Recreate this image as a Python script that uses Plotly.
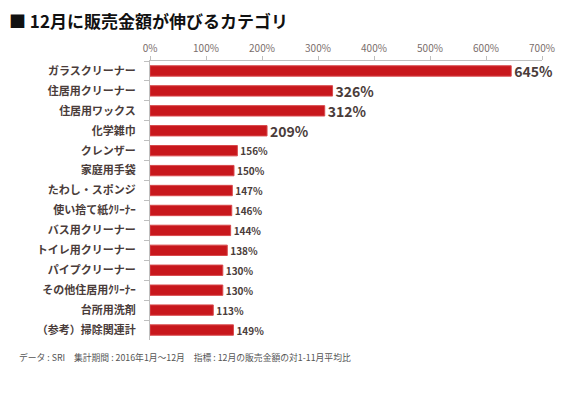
import plotly.graph_objects as go

categories = ["ガラスクリーナー", "住居用クリーナー", "住居用ワックス", "化学雑巾", "クレンザー",
              "家庭用手袋", "たわし・スポンジ", "使い捨て紙ｸﾘｰﾅｰ", "バス用クリーナー", "トイレ用クリーナー",
              "パイプクリーナー", "その他住居用ｸﾘｰﾅｰ", "台所用洗剤", "（参考）掃除関連計"]
values = [6.45, 3.26, 3.12, 2.09, 1.56, 1.50, 1.47, 1.46, 1.44, 1.38, 1.30, 1.30, 1.13, 1.49]
tick_vals = [0, 1, 2, 3, 4, 5, 6, 7]
tick_text = ["0%", "100%", "200%", "300%", "400%", "500%", "600%", "700%"]

labels = [f"{round(v*100)}%" for v in values]
label_sizes = [14 if i < 4 else 10 for i in range(len(values))]

FONT = "Noto Sans CJK JP"
TXT = "#4a3c3a"

fig = go.Figure(go.Bar(
    x=values, y=categories, orientation="h",
    marker=dict(color="#c8171c", line=dict(color="#d9494c", width=1)),
    text=labels, textposition="outside", cliponaxis=False, constraintext="none",
    textfont=dict(size=label_sizes, color=TXT, family=FONT, weight="bold"),
    width=0.52,
))

fig.update_layout(
    width=572, height=385,
    margin=dict(l=142, r=38, t=53, b=53),
    paper_bgcolor="white", plot_bgcolor="white",
    showlegend=False,
    font=dict(family=FONT, color=TXT),
    xaxis=dict(side="top", range=[0, 7], tickvals=tick_vals, ticktext=tick_text, automargin=False,
               showgrid=False, zeroline=False, showline=True, linecolor="#bfbfbf", linewidth=1,
               ticks="outside", ticklen=4, tickcolor="#bfbfbf",
               tickfont=dict(size=10, color="#7a6e6c", family=FONT)),
    yaxis=dict(autorange="reversed", showgrid=False, showline=True, linecolor="#bfbfbf", linewidth=1,
               automargin=False,
               ticks="outside", ticklen=5, tickcolor="#bfbfbf", tickson="boundaries",
               tickfont=dict(size=11, color=TXT, family=FONT, weight="bold"),
               ticklabelstandoff=11),
    annotations=[
        dict(text="■ 12月に販売金額が伸びるカテゴリ", x=0, y=1, xref="paper", yref="paper",
             xanchor="left", yanchor="top", showarrow=False, xshift=-143, yshift=55,
             font=dict(size=17, color="#111111", family=FONT, weight="bold")),
        dict(text="データ : SRI　集計期間 : 2016年1月～12月　指標 : 12月の販売金額の対1-11月平均比",
             x=0, y=0, xref="paper", yref="paper", xanchor="left", yanchor="top",
             showarrow=False, xshift=-133, yshift=-9,
             font=dict(size=8.8, color="#555555", family=FONT)),
    ],
)

fig.write_html("out.html")
